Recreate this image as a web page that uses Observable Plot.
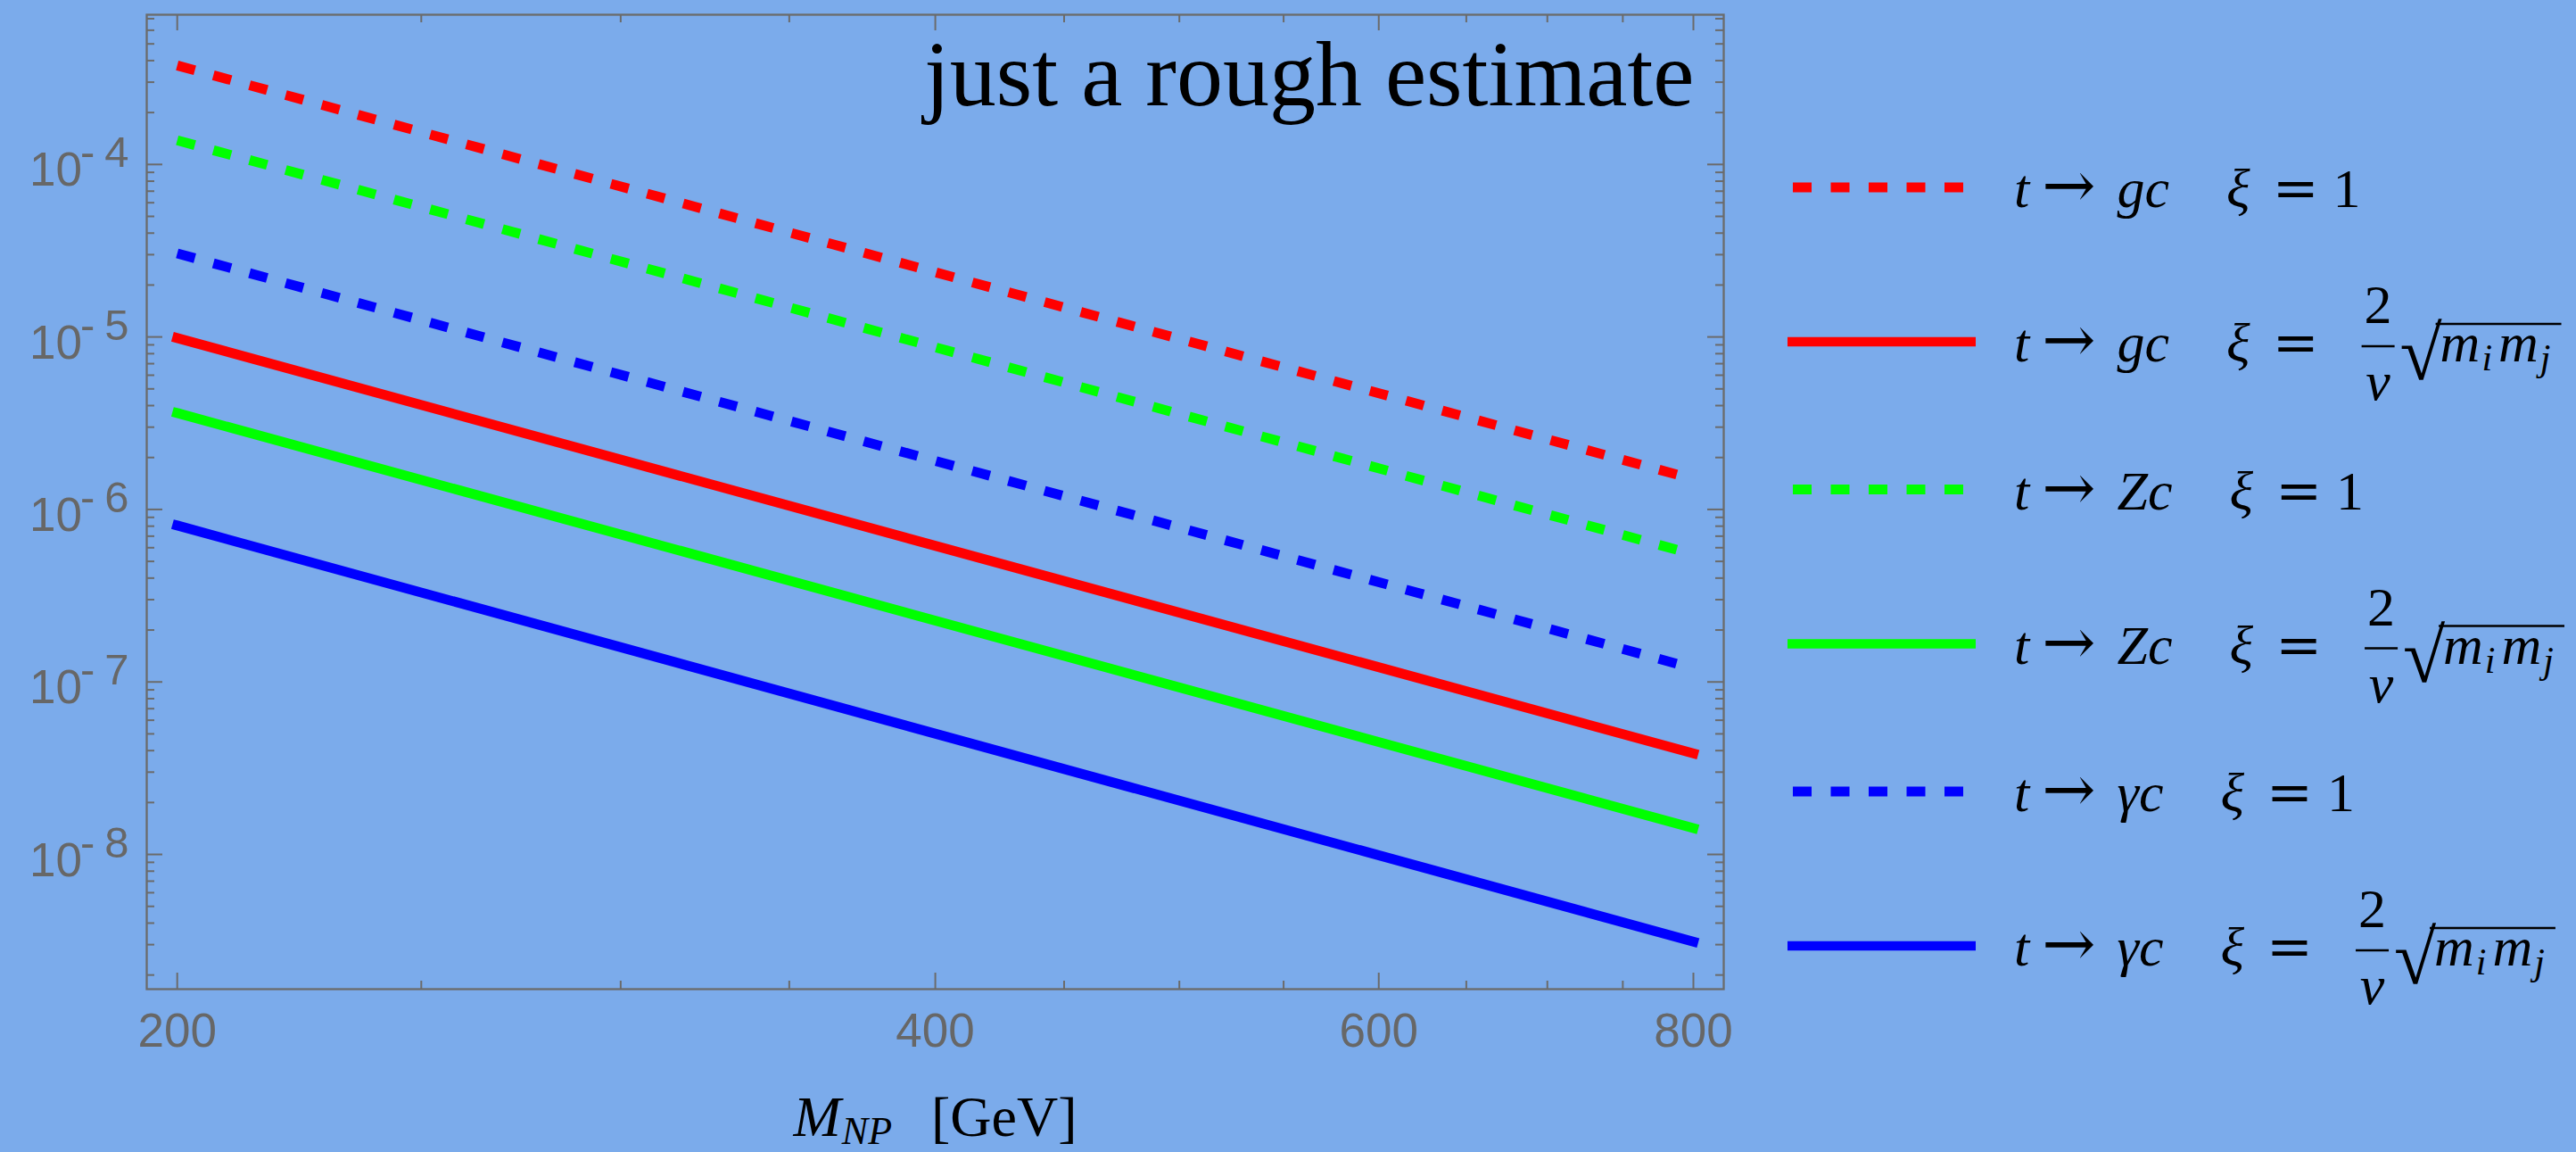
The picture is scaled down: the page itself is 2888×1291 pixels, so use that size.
<!DOCTYPE html>
<html>
<head>
<meta charset="utf-8">
<script src="https://cdn.jsdelivr.net/npm/d3@7"></script>
<script src="https://cdn.jsdelivr.net/npm/@observablehq/plot@0.6"></script>
<style>
  html, body { margin: 0; padding: 0; background: rgb(123,171,235); }
  #wrap { position: relative; width: 2888px; height: 1291px; overflow: hidden; }
  #wrap > svg { position: absolute; left: 0; top: 0; }
</style>
</head>
<body>
<div id="wrap"></div>
<script>
// ---------- data ----------
const mass = [200, 800];                       // M_NP [GeV]
const gcXi1     = [3.75e-4, 1.50e-6];          // t -> g c, xi = 1
const gcXiMass  = [9.85e-6, 3.85e-8];          // t -> g c, xi = 2/v sqrt(mi mj)
const ZcXi1     = [1.38e-4, 5.50e-7];          // t -> Z c, xi = 1
const ZcXiMass  = [3.62e-6, 1.42e-8];          // t -> Z c, xi = 2/v sqrt(mi mj)
const gamXi1    = [3.05e-5, 1.20e-7];          // t -> gamma c, xi = 1
const gamXiMass = [8.07e-7, 3.12e-9];          // t -> gamma c, xi = 2/v sqrt(mi mj)

const seriesValues   = [gcXi1, gcXiMass, ZcXi1, ZcXiMass, gamXi1, gamXiMass];
const seriesBoson    = ["g", "g", "Z", "Z", "γ", "γ"];
const seriesCoupling = ["1", "mass", "1", "mass", "1", "mass"];
const seriesColor    = ["#ff0000", "#ff0000", "#00ff00", "#00ff00", "#0000ff", "#0000ff"];
const seriesDashed   = [true, false, true, false, true, false];

const xMajorTicks = [200, 400, 600, 800];
const xMinorTicks = [250, 300, 350, 450, 500, 550, 650, 700, 750];
const yMajorTicks = [1e-8, 1e-7, 1e-6, 1e-5, 1e-4];
const titleText = "just a rough estimate";
const xTitleText = "M_NP [GeV]";

// ---------- layout ----------
const W = 2888, H = 1291;
const mL = 164, mR = 956, mT = 16, mB = 183;
const plotW = W - mL - mR, plotH = H - mT - mB;
const xDomain = [194.5, 822.5];
const yDomain = [1.656e-9, 7.38e-4];
const gray = "#6b6b6b";
const serif = "'Liberation Serif', 'Times New Roman', serif";
const mathSym = "'DejaVu Serif', serif";

// minor log ticks (2..9 per decade) inside the y domain
const yMinorTicks = [];
for (let e = -9; e <= -4; e++) for (let k = 2; k <= 9; k++) {
  const v = k * Math.pow(10, e);
  if (v > yDomain[0] && v < yDomain[1]) yMinorTicks.push(v);
}

const rows = seriesValues.flatMap((vals, i) => mass.map((m, j) => ({
  series: i, x: m, y: vals[j], color: seriesColor[i], dashed: seriesDashed[i]
})));

const chart = Plot.plot({
  width: W, height: H,
  marginLeft: mL, marginRight: mR, marginTop: mT, marginBottom: mB,
  x: { type: "log", domain: xDomain },
  y: { type: "log", domain: yDomain },
  style: { background: "transparent", fontFamily: "'Liberation Sans', Arial, sans-serif", overflow: "visible" },
  marks: [
    Plot.line(rows.filter(d => !d.dashed), { x: "x", y: "y", z: "series", stroke: "color", strokeWidth: 11, strokeLinecap: "square" }),
    Plot.line(rows.filter(d => d.dashed), { x: "x", y: "y", z: "series", stroke: "color", strokeWidth: 11, strokeLinecap: "butt", strokeDasharray: "20.5 21.5" }),
    // inward frame ticks
    Plot.tickX(xMajorTicks, { x: d => d, insetTop: plotH - 18, stroke: gray, strokeWidth: 2 }),
    Plot.tickX(xMinorTicks, { x: d => d, insetTop: plotH - 9, stroke: gray, strokeWidth: 2 }),
    Plot.tickX(xMajorTicks, { x: d => d, insetBottom: plotH - 18, stroke: gray, strokeWidth: 2 }),
    Plot.tickX(xMinorTicks, { x: d => d, insetBottom: plotH - 9, stroke: gray, strokeWidth: 2 }),
    Plot.tickY(yMajorTicks, { y: d => d, insetRight: plotW - 18, stroke: gray, strokeWidth: 2 }),
    Plot.tickY(yMinorTicks, { y: d => d, insetRight: plotW - 9, stroke: gray, strokeWidth: 2 }),
    Plot.tickY(yMajorTicks, { y: d => d, insetLeft: plotW - 18, stroke: gray, strokeWidth: 2 }),
    Plot.tickY(yMinorTicks, { y: d => d, insetLeft: plotW - 9, stroke: gray, strokeWidth: 2 }),
    Plot.frame({ stroke: gray, strokeWidth: 2.3 }),
    Plot.axisX(xMajorTicks, { anchor: "bottom", tickSize: 0, tickPadding: 27, fontSize: 53, fill: "#676767", label: null }),
    Plot.axisY(yMajorTicks, { anchor: "left", tickSize: 0, tickPadding: 20, fontSize: 53, fill: "#676767", label: null, dy: 7,
      tickFormat: d => `10^${Math.round(Math.log10(d))}` }),
    Plot.text([titleText], { text: d => d, frameAnchor: "top-right", textAnchor: "end", lineAnchor: "bottom",
      dx: -33, dy: 101, fontSize: 104, fontFamily: serif, fill: "black" }),
    Plot.text([xTitleText], { text: d => d, frameAnchor: "bottom", lineAnchor: "bottom", dy: 164, fontSize: 64,
      fontFamily: serif, fill: "black" })
  ]
});
document.getElementById("wrap").appendChild(chart);

// superscript exponents on y tick labels
d3.select(chart).selectAll('g[aria-label="y-axis tick label"] text').each(function () {
  const s = this.textContent;
  const [base, exp] = s.split("^");
  const t = d3.select(this);
  t.text(null);
  t.append("tspan").text(base);
  t.append("tspan").attr("dy", -21).attr("dx", -2).attr("font-size", 49).text(exp.slice(0, 1));
  t.append("tspan").attr("dx", 11).attr("font-size", 49).text(exp.slice(1));
});

// x title with subscript
d3.select(chart).selectAll("text").filter(function () { return this.textContent === xTitleText; }).each(function () {
  const t = d3.select(this);
  const [main, rest] = xTitleText.split(" ");
  const [sym, sub] = main.split("_");
  t.text(null);
  t.append("tspan").attr("font-style", "italic").text(sym);
  t.append("tspan").attr("font-style", "italic").attr("font-size", 44).attr("dy", 9).attr("dx", 1).text(sub);
  t.append("tspan").attr("dy", -9).attr("dx", 44).text(rest);
});

// ---------- legend (right side) ----------
const leg = d3.select("#wrap").append("svg")
  .attr("width", W).attr("height", H)
  .style("pointer-events", "none")
  .style("font-family", serif).style("font-size", "62px").attr("fill", "black");

seriesValues.forEach((_, i) => {
  const cy = 210 + Math.floor(i / 2) * 338.5 + (i % 2) * 173;
  const base = cy + 22;
  const g = leg.append("g");
  if (seriesDashed[i]) {
    g.append("line").attr("x1", 2010).attr("x2", 2201).attr("y1", cy).attr("y2", cy)
      .attr("stroke", seriesColor[i]).attr("stroke-width", 11).attr("stroke-dasharray", "21 21.5");
  } else {
    g.append("line").attr("x1", 2004).attr("x2", 2215).attr("y1", cy).attr("y2", cy)
      .attr("stroke", seriesColor[i]).attr("stroke-width", 10.5);
  }
  const t = g.append("text").attr("x", 2258).attr("y", base);
  t.append("tspan").style("font-style", "italic").text("t");
  t.append("tspan").attr("dx", 14).style("font-family", mathSym).style("font-size", "72px").text("→");
  t.append("tspan").attr("dx", 24).style("font-style", "italic").text(seriesBoson[i] + "c");
  t.append("tspan").attr("dx", 64).style("font-style", "italic").text("ξ");
  t.append("tspan").attr("dx", 25).style("font-family", mathSym).text("=");
  if (seriesCoupling[i] === "1") {
    t.append("tspan").attr("dx", 16).text("1");
  } else {
    const bb = t.node().getBBox();
    const xEq = bb.x + bb.width;
    const bx0 = xEq + 48, bw = 37, bc = bx0 + bw / 2;
    g.append("line").attr("x1", bx0).attr("x2", bx0 + bw).attr("y1", base - 17).attr("y2", base - 17)
      .attr("stroke", "black").attr("stroke-width", 2.6);
    g.append("text").attr("x", bc).attr("y", base - 43).attr("text-anchor", "middle").text("2");
    g.append("text").attr("x", bc).attr("y", base + 43).attr("text-anchor", "middle").style("font-style", "italic").text("v");
    const rx = bx0 + bw + 6;
    g.append("text").attr("x", rx).attr("y", base + 20).style("font-size", "86px").text("√");
    const mt = g.append("text").attr("x", rx + 45).attr("y", base);
    mt.append("tspan").style("font-style", "italic").text("m");
    mt.append("tspan").style("font-style", "italic").style("font-size", "42px").attr("dy", 10).attr("dx", 2).text("i");
    mt.append("tspan").style("font-style", "italic").attr("dy", -10).attr("dx", 7).text("m");
    mt.append("tspan").style("font-style", "italic").style("font-size", "42px").attr("dy", 10).attr("dx", 2).text("j");
    const mb = mt.node().getBBox();
    g.append("line").attr("x1", rx + 40).attr("x2", mb.x + mb.width + 12).attr("y1", base - 42).attr("y2", base - 42)
      .attr("stroke", "black").attr("stroke-width", 2.6);
  }
});
</script>
</body>
</html>
